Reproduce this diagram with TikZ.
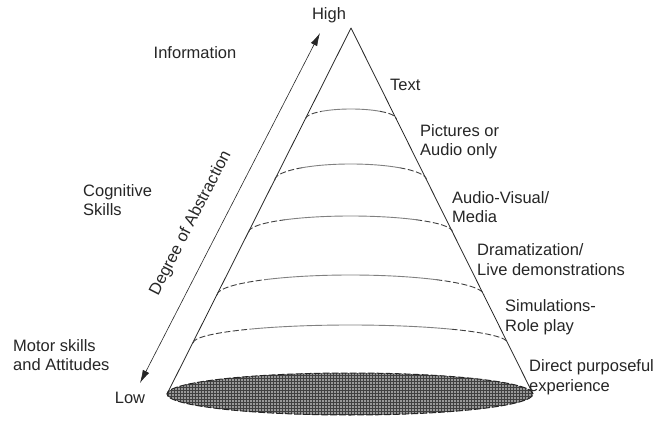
\documentclass[tikz,border=0pt]{standalone}
\usepackage{fontspec}
\setmainfont{Liberation Sans}
\usetikzlibrary{arrows.meta,patterns,calc}
\newcommand\conearc[4]{% #1 centre x, #2 end height, #3 half width, #4 rise
  \draw[arcdash] (#1-#3,#2) arc[start angle=180,end angle=130,x radius=#3pt,y radius=#4pt];
  \draw[arcsolid] ({#1+#3*cos(130)},{#2+#4*sin(130)}) arc[start angle=130,end angle=50,x radius=#3pt,y radius=#4pt];
  \draw[arcdash] ({#1+#3*cos(50)},{#2+#4*sin(50)}) arc[start angle=50,end angle=0,x radius=#3pt,y radius=#4pt];
}
\begin{document}
\begin{tikzpicture}[x=1pt,y=1pt,
  lbl/.style={font=\fontsize{16.5}{19.5}\selectfont, text=black!85, inner sep=0pt, align=left},
  side/.style={line width=0.8pt, draw=black!85, line join=round},
  arcdash/.style={line width=0.9pt, draw=black!75, dash pattern=on 6pt off 2.5pt},
  arcsolid/.style={line width=0.9pt, draw=black!50},
  absarrow/.style={line width=0.6pt, draw=black!85, {Latex[length=13pt,width=7pt]}-{Latex[length=13pt,width=7pt]}}
]
\useasboundingbox (0,0) rectangle (660,420);
\fill[white] (0,0) rectangle (660,420);

% base
\fill[black!40] (350,26) ellipse[x radius=183pt, y radius=21pt];
\fill[pattern=grid, pattern color=black!75] (350,26) ellipse[x radius=183pt, y radius=21pt];
\draw[line width=1pt, black!85, dash pattern=on 7pt off 2pt] (350,26) ellipse[x radius=183pt, y radius=21pt];

% cone
\coordinate (apex) at (351,392);
\coordinate (bl) at (167,26);
\coordinate (br) at (533,26);
\draw[side] (bl) -- (apex) -- (br);

% level arcs
\conearc{350.9}{301}{45.5}{10}
\conearc{350.7}{240}{75.9}{16}
\conearc{350.6}{188}{101.9}{16}
\conearc{350.5}{125}{133.4}{20}
\conearc{350.4}{77}{157.3}{18}

% abstraction arrow
\coordinate (aLow) at (140,37);
\coordinate (aHigh) at (320,387);
\draw[absarrow] (aLow) -- (aHigh);
\node[lbl, rotate=62.8] (deg) at ($(aLow)!0.42!(aHigh)+(-24.9,12.8)$) {Degree of Abstraction};

% labels
\node[lbl] (high) at (329,405) {High};
\node[lbl] (low) at (130,22) {Low};
\node[lbl] (info) at (195,367) {Information};
\node[lbl, anchor=west] (cog) at (83,220) {Cognitive\\Skills};
\node[lbl, anchor=west] (motor) at (13,65) {Motor skills\\and Attitudes};

\node[lbl, anchor=west] (t1) at (390,335) {Text};
\node[lbl, anchor=west] (t2) at (420,278.5) {Pictures or\\Audio only};
\node[lbl, anchor=west] (t3) at (452,213) {Audio-Visual/\\Media};
\node[lbl, anchor=west] (t4) at (477,160.5) {Dramatization/\\Live demonstrations};
\node[lbl, anchor=west] (t5) at (505,103) {Simulations-\\Role play};
\node[lbl, anchor=west] (t6) at (529,43) {Direct purposeful\\experience};
\end{tikzpicture}
\end{document}
